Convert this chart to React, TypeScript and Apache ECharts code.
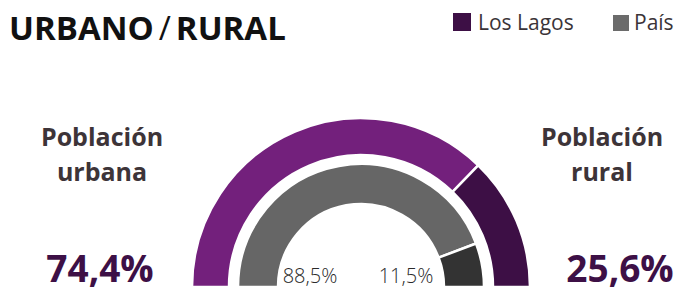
import React, { useEffect, useRef } from "react";
import * as echarts from "echarts";

const regionName = "Los Lagos";
const countryName = "País";
const categories = ["Población urbana", "Población rural"];
const categoryLabels = ["Población\nurbana", "Población\nrural"];
const regionValues = [74.4, 25.6];
const countryValues = [88.5, 11.5];

const fmt = (v: number) => v.toFixed(1).replace(".", ",") + "%";

export default function App() {
  const ref = useRef<HTMLDivElement>(null);
  useEffect(() => {
    if (!ref.current) return;
    const chart = echarts.init(ref.current, undefined, { renderer: "svg" });
    const FONT = "'Open Sans', 'Noto Sans', sans-serif";
    const half = (vals: number[], colors: string[]) => [
      ...vals.map((v, i) => ({
        name: categories[i],
        value: v,
        itemStyle: { color: colors[i], borderColor: "#ffffff", borderWidth: 2.5 },
      })),
      {
        name: "_filler",
        value: vals.reduce((a, b) => a + b, 0),
        itemStyle: { color: "rgba(0,0,0,0)", borderWidth: 0 },
        label: { show: false },
        emphasis: { disabled: true },
        tooltip: { show: false },
      },
    ];
    const catLabel = (x: number, text: string) => ({
      type: "text",
      x,
      y: 153,
      style: {
        text,
        fontFamily: FONT,
        fontWeight: "bold",
        fontSize: 25,
        lineHeight: 35,
        fill: "#3d3438",
        align: "center",
        verticalAlign: "middle",
      },
    });
    const bigNum = (x: number, v: number) => ({
      type: "text",
      x,
      y: 267,
      style: {
        text: fmt(v),
        fontFamily: FONT,
        fontWeight: "bold",
        fontSize: 37,
        lineHeight: 37,
        fill: "#3D1046",
        align: "center",
        verticalAlign: "middle",
      },
    });
    const smallNum = (x: number, v: number) => ({
      type: "text",
      x,
      y: 275,
      style: {
        text: fmt(v),
        fontFamily: FONT,
        fontWeight: 300,
        fontSize: 20,
        lineHeight: 20,
        fill: "#2a2a2a",
        align: "center",
        verticalAlign: "middle",
      },
    });
    chart.setOption({
      animation: false,
      title: {
        left: 4,
        top: 6,
        text: "{b|URBANO} {n|/} {b|RURAL}",
        textStyle: {
          rich: {
            b: { fontFamily: FONT, fontWeight: "bold", fontSize: 33, color: "#111111" },
            n: { fontFamily: FONT, fontWeight: "normal", fontSize: 33, color: "#111111" },
          },
        },
      },
      graphic: [
        { type: "rect", shape: { x: 453, y: 13, width: 18, height: 18 }, style: { fill: "#3D0F45" } },
        {
          type: "text",
          x: 478,
          y: 22,
          style: { text: regionName, fontFamily: FONT, fontSize: 21, fill: "#3b3438", verticalAlign: "middle" },
        },
        { type: "rect", shape: { x: 613, y: 15, width: 16, height: 16 }, style: { fill: "#6B6B6B" } },
        {
          type: "text",
          x: 634,
          y: 22,
          style: { text: countryName, fontFamily: FONT, fontSize: 21, fill: "#3b3438", verticalAlign: "middle" },
        },
        catLabel(102, categoryLabels[0]),
        catLabel(602, categoryLabels[1]),
        bigNum(100, regionValues[0]),
        bigNum(620, regionValues[1]),
        smallNum(310, countryValues[0]),
        smallNum(406, countryValues[1]),
      ],
      series: [
        {
          type: "pie",
          name: regionName,
          center: [361, 287],
          radius: [132, 169],
          startAngle: 180,
          clockwise: true,
          silent: true,
          label: { show: false },
          labelLine: { show: false },
          data: half(regionValues, ["#73207C", "#3D0F45"]),
        },
        {
          type: "pie",
          name: countryName,
          center: [361, 287],
          radius: [83, 123],
          startAngle: 180,
          clockwise: true,
          silent: true,
          label: { show: false },
          labelLine: { show: false },
          data: half(countryValues, ["#666666", "#333333"]),
        },
      ],
    });
    return () => chart.dispose();
  }, []);
  return (
    <div
      ref={ref}
      style={{ position: "fixed", left: 0, top: 0, width: 680, height: 293, background: "#ffffff" }}
    />
  );
}
